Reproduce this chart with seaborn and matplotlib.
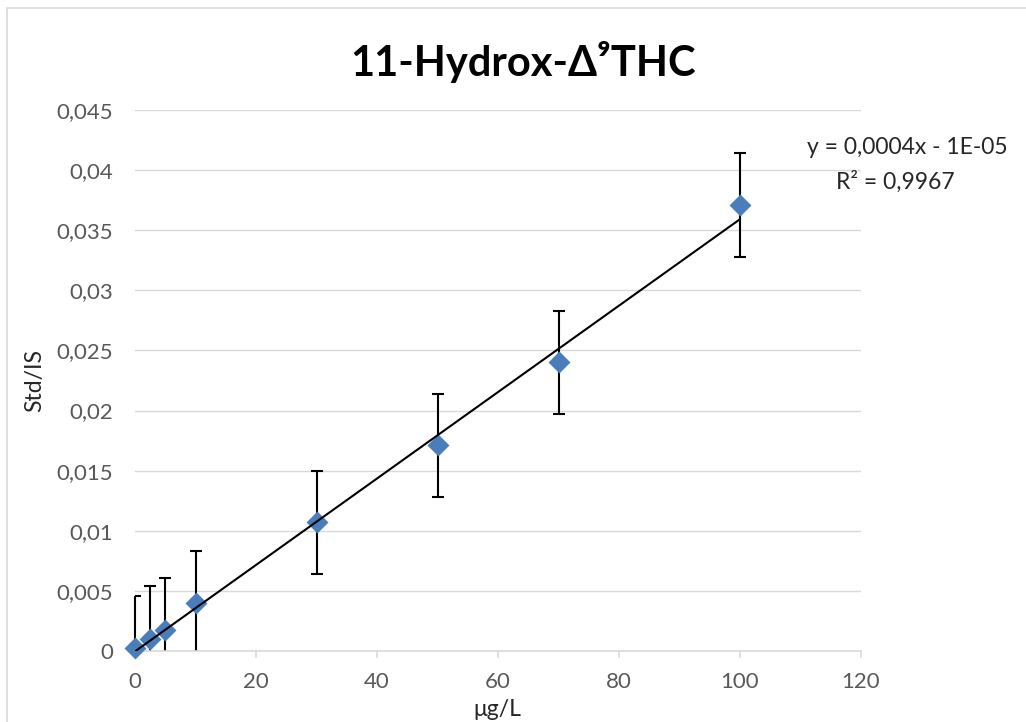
import numpy as np
import pandas as pd
import matplotlib
matplotlib.use("Agg")
import matplotlib.pyplot as plt
from matplotlib.ticker import MultipleLocator, FuncFormatter
from matplotlib.patches import Rectangle
import seaborn as sns

sns.set_theme(style="white")
plt.rcParams['font.family'] = ['Lato', 'DejaVu Sans']

# dados
conc = [0, 2.5, 5, 10, 30, 50, 70, 100]          # ug/L
ratio = [0.00025, 0.001, 0.00175, 0.0040, 0.0107, 0.0171, 0.0240, 0.0371]  # Std/IS
erro = [0.0043, 0.0044, 0.0043, 0.0043, 0.0043, 0.0043, 0.0043, 0.0043]

df = pd.DataFrame({'conc': conc, 'ratio': ratio, 'erro': erro})

W, H = 1026, 722
fig = plt.figure(figsize=(W / 100, H / 100), dpi=100)
ax = fig.add_axes([135 / W, 1 - 651 / H, (861 - 135) / W, (651 - 110) / H])

# borda do grafico (estilo Excel)
fig.patches.append(Rectangle((7 / W, -0.1), 1.2, 1 - 8 / H + 0.1, transform=fig.transFigure,
                             fill=False, edgecolor='#d9d9d9', linewidth=1.2))

# barras de erro
eb = ax.errorbar(df['conc'], df['ratio'], yerr=df['erro'], fmt='none', ecolor='black',
                 elinewidth=1.5, capsize=4, capthick=1.5, zorder=2)
# linha vertical em x=0 nao cortada pela esquerda, so embaixo (y=0)
clip = Rectangle((-5, 0), 130, 0.045, transform=ax.transData)
for col in eb[2]:
    col.set_clip_path(clip)

# pontos
sns.scatterplot(data=df, x='conc', y='ratio', marker='D', s=125, color='#4a7ebb',
                linewidth=0, ax=ax, zorder=3, clip_on=False)

# linha de tendencia
sns.regplot(data=df, x='conc', y='ratio', scatter=False, ci=None, ax=ax,
            line_kws={'color': 'black', 'linewidth': 1.5, 'zorder': 4})

ax.set_xlim(0, 120)
ax.set_ylim(0, 0.045)
ax.xaxis.set_major_locator(MultipleLocator(20))
ax.yaxis.set_major_locator(MultipleLocator(0.005))
ax.yaxis.set_major_formatter(FuncFormatter(lambda v, p: ('%g' % v).replace('.', ',')))

ax.grid(axis='y', color='#d9d9d9', linewidth=1)
ax.grid(axis='x', visible=False)
ax.set_axisbelow(True)
for s in ['top', 'right', 'left']:
    ax.spines[s].set_visible(False)
ax.spines['bottom'].set_color('#d9d9d9')
ax.spines['bottom'].set_linewidth(1.2)

ax.tick_params(axis='x', direction='out', length=5, width=1.2, color='#d9d9d9',
               labelsize=16, labelcolor='#595959', pad=10, bottom=True)
ax.tick_params(axis='y', length=0, labelsize=16, labelcolor='#595959', pad=16)

ax.set_xlabel('')
ax.set_ylabel('')
fig.text(35 / W, 1 - 381 / H, 'Std/IS', rotation=90, ha='center', va='center',
         fontsize=16.5, color='#262626')
fig.text(497 / W, 1 - 709 / H, 'μg/L', ha='center', va='center', fontsize=16.5, color='#262626')

fig.text(523 / W, 1 - 62 / H, '11-Hydrox-Δ⁹THC', ha='center', va='center',
         fontsize=30, fontweight='bold', color='black')

# equacao da linha
fig.text(807 / W, 1 - 148 / H, 'y = 0,0004x - 1E-05', ha='left', va='center',
         fontsize=16.5, color='#262626')
fig.text(836 / W, 1 - 182 / H, 'R² = 0,9967', ha='left', va='center',
         fontsize=16.5, color='#262626')

fig.savefig('out.png', dpi=100)
